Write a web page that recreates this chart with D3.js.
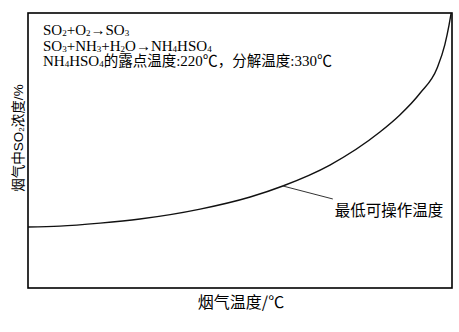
<!DOCTYPE html>
<html>
<head>
<meta charset="utf-8">
<script src="https://cdn.jsdelivr.net/npm/d3@7"></script>
<style>
  body { margin: 0; background: #fff; }
  svg { display: block; }
</style>
</head>
<body>
<svg id="chart"></svg>
<script>
// curve (axes have no ticks, so 0-100 on both)
const temps = [0, 7.5, 17, 26.4, 40.6, 52.4, 60.1, 71.2, 83, 87.7, 92.5, 96.5, 98.3, 99.3, 99.8]
const conc  = [22.2, 22.5, 23.6, 25.1, 28.7, 33.1, 37.1, 44.7, 56.7, 62.9, 70.9, 80, 88.4, 95.6, 100]

// equation lines, [text, 0 normal / 1 subscript / 2 chinese]
const noteLines = [
    [["SO", 0], ["2", 1], ["+O", 0], ["2", 1], ["→SO", 0], ["3", 1]],
    [["SO", 0], ["3", 1], ["+NH", 0], ["3", 1], ["+H", 0], ["2", 1], ["O→NH", 0], ["4", 1], ["HSO", 0], ["4", 1]],
    [["NH", 0], ["4", 1], ["HSO", 0], ["4", 1], ["的露点温度", 2], [":220℃", 0], ["，分解温度", 2], [":330℃", 0]]
]
const yTitle = [["烟气中SO", 0], ["2", 1], ["浓度/%", 0]]
const xTitle = "烟气温度/℃"
const annoText = "最低可操作温度"
const annoIdx = 6

const W = 459, H = 332
const margin = { top: 13, right: 7, bottom: 44, left: 28 }
const width = W - margin.left - margin.right
const height = H - margin.top - margin.bottom

const svg = d3.select('#chart').attr('width', W).attr('height', H)
const g = svg.append('g').attr('transform', `translate(${margin.left},${margin.top})`)

const x = d3.scaleLinear().domain([0, 100]).range([0, width])
const y = d3.scaleLinear().domain([0, 100]).range([height, 0])

// frame
g.append('rect')
    .attr('width', width).attr('height', height)
    .attr('fill', 'none').attr('stroke', '#000').attr('stroke-width', 1.6)

const pts = temps.map((t, i) => [t, conc[i]])
const line = d3.line()
    .x(d => x(d[0]))
    .y(d => y(d[1]))
    .curve(d3.curveMonotoneX)

g.append('path')
    .attr('d', line(pts))
    .attr('fill', 'none')
    .attr('stroke', '#111')
    .attr('stroke-width', 1.4)

function addRich(sel, segs, size, cjkSize) {
    segs.forEach(s => {
        sel.append('tspan')
            .attr('font-size', s[1] == 1 ? size * 0.6 : (s[1] == 2 ? cjkSize : size))
            .attr('baseline-shift', s[1] == 1 ? '-12%' : null)
            .text(s[0])
    })
}

// equations block
const noteG = g.append('g')
noteLines.forEach((segs, i) => {
    const t = noteG.append('text')
        .attr('x', 15)
        .attr('y', 22 + i * 15.5)
        .attr('font-family', '"Liberation Serif", "Times New Roman", "Noto Sans CJK SC", serif')
        .attr('fill', '#000')
    addRich(t, segs, 15, 14.5)
})

// annotation leader + label
const ax = x(temps[annoIdx]), ay = y(conc[annoIdx])
g.append('line')
    .attr('x1', ax).attr('y1', ay)
    .attr('x2', ax + 50).attr('y2', ay + 13)
    .attr('stroke', '#333').attr('stroke-width', 1)
g.append('text')
    .attr('x', ax + 52).attr('y', ay + 30)
    .attr('font-family', '"Noto Sans CJK SC", sans-serif')
    .attr('font-size', 15.5)
    .attr('fill', '#000')
    .text(annoText)

// axis titles
svg.append('text')
    .attr('x', 241)
    .attr('y', H - 24)
    .attr('text-anchor', 'middle')
    .attr('font-family', '"Noto Sans CJK SC", sans-serif')
    .attr('font-size', 16)
    .text(xTitle)

const yt = svg.append('text')
    .attr('transform', `translate(23, ${margin.top + 125}) rotate(-90)`)
    .attr('text-anchor', 'middle')
    .attr('font-family', '"Liberation Sans", "Noto Sans CJK SC", sans-serif')
addRich(yt, yTitle, 13.5, 13.5)
</script>
</body>
</html>
